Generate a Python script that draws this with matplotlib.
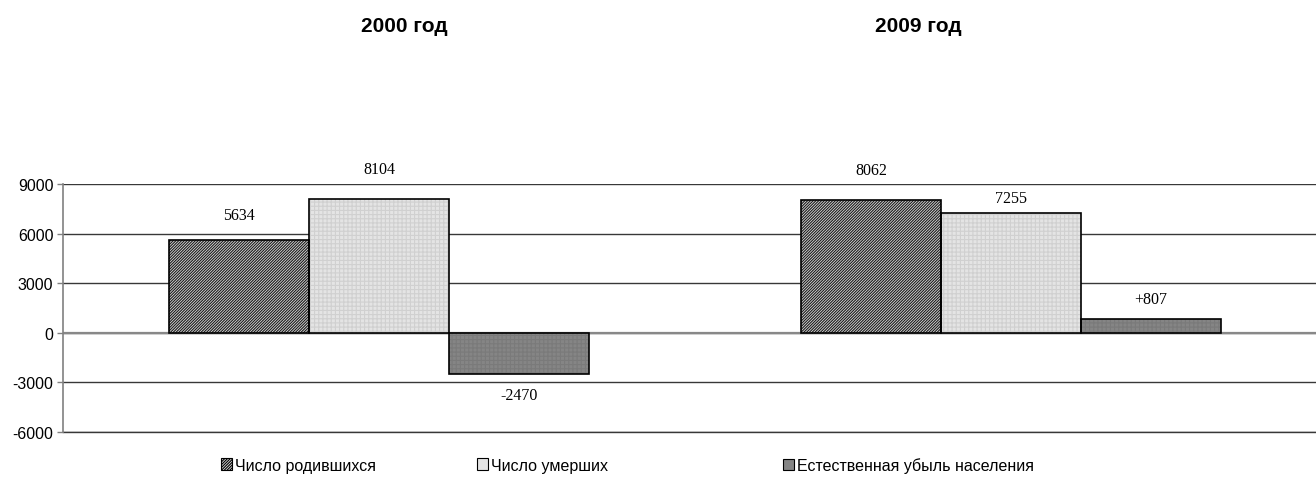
import matplotlib
matplotlib.use('Agg')
import matplotlib.pyplot as plt
import numpy as np

years = ['2000 год', '2009 год']
series = ['Число родившихся', 'Число умерших', 'Естественная убыль населения']
born = [5634, 8062]
died = [8104, 7255]
natural = [-2470, 807]
value_labels = [['5634', '8062'], ['8104', '7255'], ['-2470', '+807']]
yticks = [-6000, -3000, 0, 3000, 6000, 9000]

plt.rcParams['font.family'] = ['Liberation Sans', 'DejaVu Sans']
plt.rcParams['hatch.linewidth'] = 0.8

fig = plt.figure(figsize=(13.16, 4.81), dpi=100)
ax = fig.add_axes([63 / 1316, 1 - 433 / 481, 1253 / 1316, 248 / 481])

x = np.arange(len(years))
w = 0.2215
# (face colour, hatch, hatch colour)
styles = [('#dcdcdc', '/' * 12, '#1a1a1a'),
          ('#e4e4e4', '++++', '#d0d0d0'),
          ('#858585', '++++', '#7a7a7a')]
# label offsets in pixels (above for positive, below for negative)
offsets = [[25, 30], [30, 15], [-21, 20]]

for i, vals in enumerate([born, died, natural]):
    fc, hatch, hc = styles[i]
    bars = ax.bar(x + (i - 1) * w, vals, width=w, facecolor=fc, hatch=hatch,
                  edgecolor=hc, linewidth=0, zorder=3)
    ax.bar(x + (i - 1) * w, vals, width=w, fill=False, edgecolor='black',
           linewidth=1.2, zorder=4)
    for j, b in enumerate(bars):
        v = vals[j]
        ax.annotate(value_labels[i][j], (b.get_x() + b.get_width() / 2, v),
                    xytext=(0, offsets[i][j]), textcoords='offset pixels',
                    ha='center', va='center', fontsize=11.5,
                    family='Liberation Serif', annotation_clip=False)

ax.set_xlim(-0.5, 1.4826)
ax.set_ylim(-6000, 9000)
ax.set_yticks(yticks)
ax.set_yticklabels([str(t) for t in yticks], fontsize=11.5)
ax.set_xticks([])
ax.yaxis.grid(True, color='#383838', linewidth=1.0, zorder=0)
ax.axhline(-6000, color='#383838', linewidth=1.0, zorder=0, clip_on=False)
ax.axhline(0, color='#888888', linewidth=1.6, zorder=2)
for s in ['top', 'right', 'bottom']:
    ax.spines[s].set_visible(False)
ax.spines['left'].set_color('#808080')
ax.spines['left'].set_linewidth(1.2)
ax.tick_params(axis='y', length=4, color='#808080', width=1.0, pad=3)

fig.text(404 / 1316, 1 - 27 / 481, years[0], ha='center', va='center',
         fontsize=15, fontweight='bold')
fig.text(918 / 1316, 1 - 27 / 481, years[1], ha='center', va='center',
         fontsize=15, fontweight='bold')

# one legend per entry, so each sits where the reference puts it
legend_x = [221, 477, 783]
for i in range(3):
    fc, hatch, hc = styles[i]
    h = plt.Rectangle((0, 0), 1, 1, facecolor=fc, edgecolor='black',
                      linewidth=0.8, hatch=hatch if i == 0 else None)
    fig.legend(handles=[h], labels=[series[i]], loc='center left',
               bbox_to_anchor=(legend_x[i] / 1316, 1 - 466 / 481),
               frameon=False, fontsize=11.5, handlelength=0.7,
               handleheight=0.7, handletextpad=0.15, borderpad=0,
               borderaxespad=0)

fig.savefig('out.png', dpi=100)
